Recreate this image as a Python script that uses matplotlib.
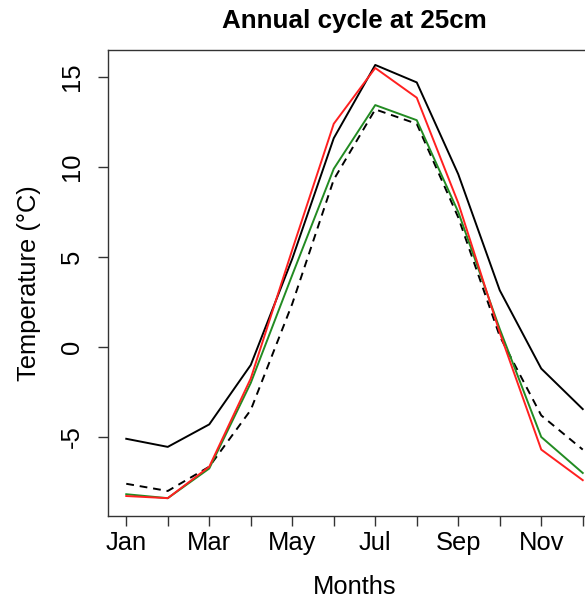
import matplotlib
matplotlib.use("Agg")
from matplotlib import pyplot as plt
import numpy as np

plt.rcParams['font.family'] = ['Liberation Sans', 'DejaVu Sans']

months = ["Jan", "Feb", "Mar", "Apr", "May", "Jun",
          "Jul", "Aug", "Sep", "Oct", "Nov", "Dec"]
x = np.arange(1, 13)

# monthly mean soil temperature at 25cm, one series per run
t_black = [-5.1, -5.55, -4.3, -1.0, 4.9, 11.6, 15.67, 14.7, 9.6, 3.15, -1.2, -3.45]
t_dashed = [-7.6, -8.0, -6.65, -3.5, 2.4, 9.3, 13.2, 12.4, 7.2, 0.6, -3.8, -5.7]
t_green = [-8.18, -8.4, -6.75, -2.0, 4.0, 9.9, 13.44, 12.6, 7.5, 1.0, -5.0, -7.0]
t_red = [-8.28, -8.4, -6.65, -1.75, 5.4, 12.4, 15.5, 13.85, 8.0, 0.8, -5.7, -7.4]

fig = plt.figure(figsize=(5.85, 5.99), dpi=100)
ax = fig.add_axes([108 / 585, 83 / 599, 493 / 585, 466 / 599])

lw = 1.4
ax.plot(x, t_black, color="black", lw=lw)
ax.plot(x, t_dashed, color="black", lw=lw, linestyle=(0, (4, 3)))
ax.plot(x, t_green, color="#228B22", lw=lw)
ax.plot(x, t_red, color="#FF2020", lw=lw)

ax.set_xlim(0.56, 12.44)
ax.set_ylim(-9.39, 16.5)

ax.set_xticks(x)
ax.set_xticklabels([m if i % 2 == 0 else "" for i, m in enumerate(months)])
ax.set_yticks([-5, 0, 5, 10, 15])
ax.set_yticklabels(["-5", "0", "5", "10", "15"], rotation=90, va="center")

ax.tick_params(axis="both", direction="out", length=7.5, width=1.0,
               color="#333333", labelsize=18.4)
ax.tick_params(axis="x", pad=3)
ax.tick_params(axis="y", pad=10)
for s in ax.spines.values():
    s.set_linewidth(1.0)
    s.set_color("#333333")

fig.text(354.5 / 585, 1 - 28 / 599, "Annual cycle at 25cm", ha="center",
         va="baseline", fontsize=18.7, fontweight="bold")
fig.text(354.5 / 585, 1 - 594 / 599, "Months", ha="center", va="baseline",
         fontsize=18.4)
fig.text(36 / 585, 1 - 283 / 599, "Temperature (\u00b0C)", ha="center",
         va="baseline", rotation=90, rotation_mode="anchor", fontsize=18.4)

fig.savefig("out.png", dpi=100)
